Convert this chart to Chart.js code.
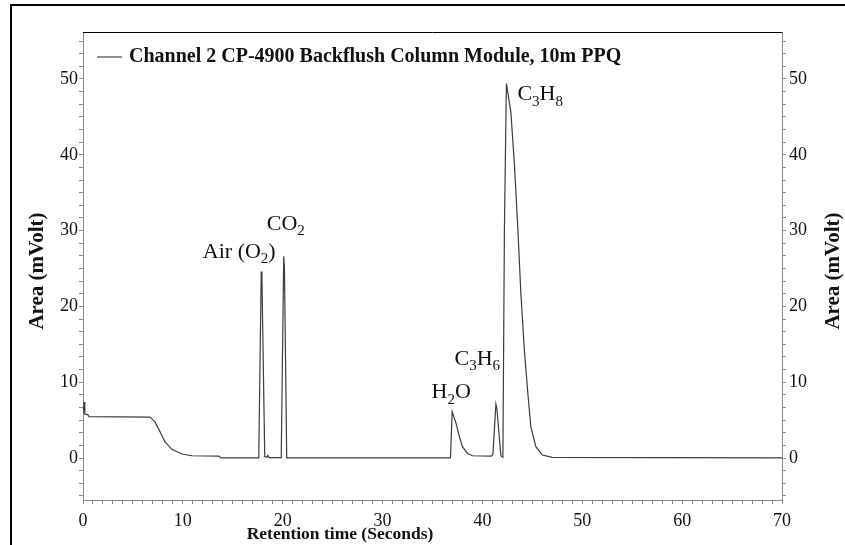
<!DOCTYPE html>
<html>
<head>
<meta charset="utf-8">
<script src="https://cdn.jsdelivr.net/npm/chart.js@4/dist/chart.umd.min.js"></script>
<style>
html,body{margin:0;padding:0;background:#fff;}
#wrap{width:845px;height:545px;position:relative;}
</style>
</head>
<body>
<div id="wrap"><canvas id="c"></canvas></div>
<script>
// ---------------- data ----------------
const seriesLabel = 'Channel 2 CP-4900 Backflush Column Module, 10m PPQ';
const xTitle = 'Retention time (Seconds)';
const yTitle = 'Area (mVolt)';

const retentionTimes = [
  0, 0.12, 0.18, 0.5, 0.6, 6.7, 7.2, 7.7, 8.2, 8.9, 9.9, 10.9, 13.6, 13.8,
  17.6, 17.85, 17.92, 18.2, 18.4, 18.5, 18.65, 19.85, 20.1, 20.17, 20.4,
  36.8, 36.97, 37.35, 37.7, 38.0, 38.5, 39.0, 40.9, 41.05, 41.35, 41.45, 41.85, 42.05,
  42.2, 42.4, 42.85, 43.2, 43.55, 43.85, 44.2, 44.55, 44.85, 45.35, 46.0, 47.0, 70
];
const signalMV = [
  5.8, 7.4, 5.8, 5.7, 5.45, 5.4, 4.8, 3.5, 2.15, 1.15, 0.53, 0.3, 0.25, 0.02,
  0.02, 24.6, 23.6, 0.2, 0.1, 0.35, 0.05, 0.05, 26.6, 25.2, 0.02,
  0.02, 6.1, 4.6, 2.8, 1.5, 0.6, 0.3, 0.25, 0.5, 7.1, 6.5, 0.3, 0.1,
  30, 49.4, 45.6, 38.8, 30.2, 21.7, 14.2, 8.5, 4.1, 1.5, 0.4, 0.08, 0.02
];

const xTickLabels = [0, 10, 20, 30, 40, 50, 60, 70];
const yTickLabels = [0, 10, 20, 30, 40, 50];

const peakNames = ['Air (O2)', 'CO2', 'H2O', 'C3H6', 'C3H8'];
const peakLabelAt = [[12.0, 26.4], [18.4, 30.1], [34.9, 7.9], [37.2, 12.3], [43.5, 47.2]];

// ---------------- layout / style ----------------
const serif = '"Liberation Serif","Times New Roman",serif';
const X_MIN = 0, X_MAX = 70, X_MINOR = 1;
const Y_MIN = -5.54, Y_MAX = 56.2, Y_MINOR = 10 / 6;
const axisGrey = '#8a8a8a';

function minorTicks(lo, hi, step) {
  const out = [];
  const start = Math.ceil(lo / step - 1e-9);
  const end = Math.floor(hi / step + 1e-9);
  for (let k = start; k <= end; k++) out.push({ value: k * step });
  return out;
}
function labelFor(v, list) {
  const r = Math.round(v);
  return (Math.abs(v - r) < 1e-6 && list.includes(r)) ? String(r) : '';
}

function drawChem(ctx, text, x, y, size) {
  let cx = x;
  ctx.textAlign = 'left';
  ctx.textBaseline = 'alphabetic';
  for (const ch of text) {
    const sub = /[0-9]/.test(ch);
    const fs = sub ? Math.round(size * 0.66) : size;
    ctx.font = fs + 'px ' + serif;
    ctx.fillText(ch, cx, sub ? y + size * 0.25 : y);
    cx += ctx.measureText(ch).width;
  }
}

const decor = {
  id: 'decor',
  afterDraw(chart) {
    const ctx = chart.ctx;
    const a = chart.chartArea;
    const xs = chart.scales.x, ys = chart.scales.y;
    ctx.save();
    // outer frame (left + top)
    ctx.strokeStyle = '#000';
    ctx.lineWidth = 2;
    ctx.beginPath();
    ctx.moveTo(11, 545);
    ctx.lineTo(11, 5);
    ctx.lineTo(845, 5);
    ctx.stroke();
    // top border of plot
    ctx.lineWidth = 1;
    ctx.beginPath();
    ctx.moveTo(a.left, a.top + 0.5);
    ctx.lineTo(a.right, a.top + 0.5);
    ctx.stroke();
    // legend
    const ds = chart.data.datasets[0];
    ctx.strokeStyle = '#6a6a6a';
    ctx.lineWidth = 1.5;
    ctx.beginPath();
    ctx.moveTo(a.left + 14, a.top + 25);
    ctx.lineTo(a.left + 39, a.top + 25);
    ctx.stroke();
    ctx.fillStyle = '#111';
    ctx.font = 'bold 20px ' + serif;
    ctx.textAlign = 'left';
    ctx.textBaseline = 'middle';
    ctx.fillText(ds.label, a.left + 46, a.top + 25);
    // axis titles
    ctx.font = 'bold 17.5px ' + serif;
    ctx.textAlign = 'center';
    ctx.textBaseline = 'middle';
    ctx.fillText(xTitle, 340, 534);
    ctx.font = 'bold 21px ' + serif;
    ctx.save();
    ctx.translate(38, 271);
    ctx.rotate(-Math.PI / 2);
    ctx.fillText(yTitle, 0, 0);
    ctx.restore();
    ctx.save();
    ctx.translate(834, 271);
    ctx.rotate(-Math.PI / 2);
    ctx.fillText(yTitle, 0, 0);
    ctx.restore();
    // peak labels
    ctx.fillStyle = '#111';
    peakNames.forEach((n, i) => {
      const [t, v] = peakLabelAt[i];
      drawChem(ctx, n, xs.getPixelForValue(t), ys.getPixelForValue(v), 22);
    });
    ctx.restore();
  }
};

const tickFont = { family: serif, size: 18 };

new Chart(document.getElementById('c'), {
  type: 'line',
  data: {
    datasets: [{
      label: seriesLabel,
      data: retentionTimes.map((t, i) => ({ x: t, y: signalMV[i] })),
      borderColor: '#3c3c3c',
      borderWidth: 1.2,
      pointRadius: 0,
      tension: 0,
      fill: false,
      xAxisID: 'x',
      yAxisID: 'y'
    }]
  },
  options: {
    responsive: true,
    maintainAspectRatio: false,
    animation: false,
    devicePixelRatio: 1,
    layout: { padding: { top: 32, left: 0, right: 0, bottom: 0 } },
    plugins: { legend: { display: false }, tooltip: { enabled: false } },
    scales: {
      x: {
        type: 'linear', position: 'bottom', min: X_MIN, max: X_MAX,
        afterBuildTicks: s => { s.ticks = minorTicks(X_MIN, X_MAX, X_MINOR); },
        afterFit: s => { s.height = 45; },
        grid: { drawOnChartArea: false, drawTicks: true, tickLength: 4, tickColor: axisGrey },
        border: { display: true, color: axisGrey, width: 1 },
        ticks: { autoSkip: false, maxRotation: 0, minRotation: 0, padding: 6, color: '#111', font: tickFont,
          callback: v => labelFor(v, xTickLabels) }
      },
      y: {
        type: 'linear', position: 'left', min: Y_MIN, max: Y_MAX,
        afterBuildTicks: s => { s.ticks = minorTicks(Y_MIN, Y_MAX, Y_MINOR); },
        afterFit: s => { s.width = 83; },
        grid: { drawOnChartArea: false, drawTicks: true, tickLength: 4, tickColor: axisGrey },
        border: { display: true, color: axisGrey, width: 1 },
        ticks: { autoSkip: false, padding: 1, color: '#111', font: tickFont,
          callback: v => labelFor(v, yTickLabels) }
      },
      y2: {
        type: 'linear', position: 'right', display: true, min: Y_MIN, max: Y_MAX,
        afterBuildTicks: s => { s.ticks = minorTicks(Y_MIN, Y_MAX, Y_MINOR); },
        afterFit: s => { s.width = 63; },
        grid: { drawOnChartArea: false, drawTicks: true, tickLength: 4, tickColor: axisGrey },
        border: { display: true, color: axisGrey, width: 1 },
        ticks: { autoSkip: false, padding: 3, color: '#111', font: tickFont,
          callback: v => labelFor(v, yTickLabels) }
      }
    }
  },
  plugins: [decor]
});
</script>
</body>
</html>
